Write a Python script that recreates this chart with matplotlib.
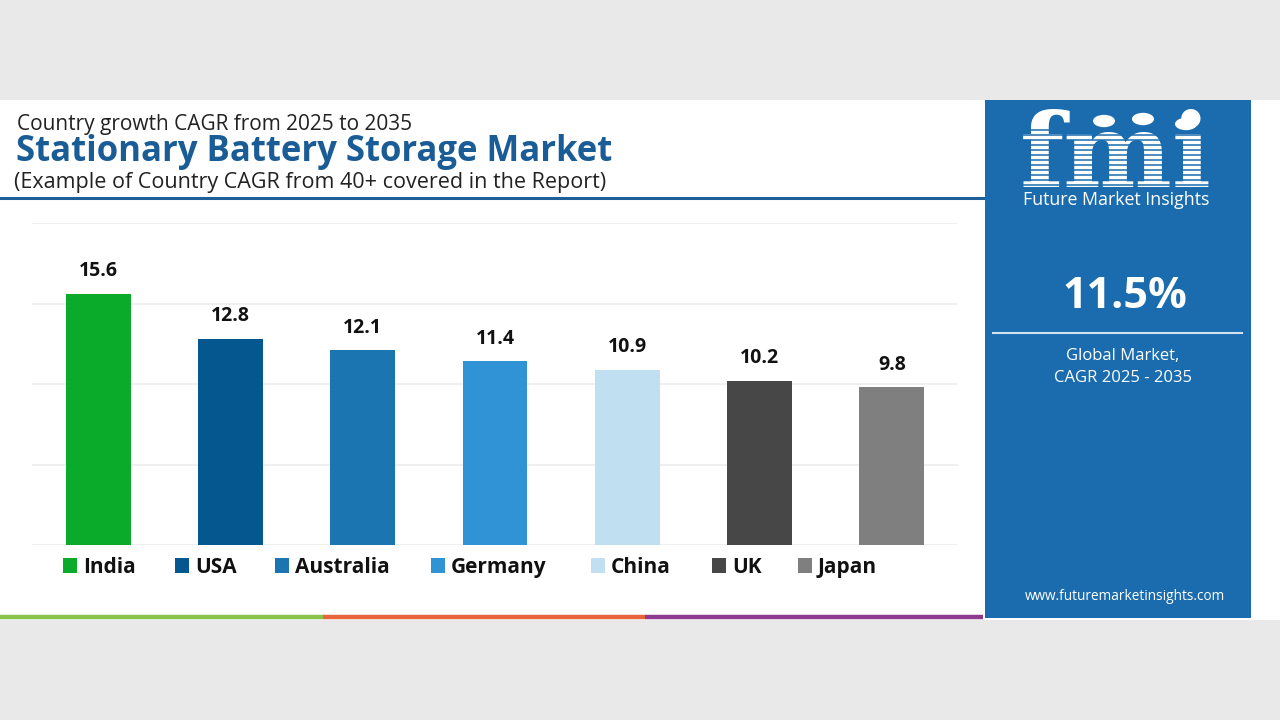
import matplotlib
matplotlib.use("Agg")
import matplotlib.pyplot as plt
from matplotlib.patches import Rectangle, Circle
from matplotlib.lines import Line2D

# ---- data ----
countries = ["India", "USA", "Australia", "Germany", "China", "UK", "Japan"]
cagr = [15.6, 12.8, 12.1, 11.4, 10.9, 10.2, 9.8]
bar_colors = ["#0aab2a", "#05588f", "#1b75b1", "#2f93d6", "#c0e0f2", "#474747", "#7f7f7f"]
global_cagr = "11.5%"
header_line1 = "Country growth CAGR from 2025 to 2035"
title = "Stationary Battery Storage Market"
subtitle = "(Example of Country CAGR from 40+ covered in the Report)"

W, H = 1280, 720
fig = plt.figure(figsize=(W / 100, H / 100), dpi=100)
fig.patch.set_facecolor("#e9e9e9")

def fx(px):
    return px / W

def fy(py):
    return 1 - py / H

FONT = "Open Sans"
PANEL = "#1b6cae"

# white card
fig.add_artist(Rectangle((0, fy(620)), 1, fy(100) - fy(620), transform=fig.transFigure,
                         facecolor="white", edgecolor="none", zorder=0))
# right blue panel
fig.add_artist(Rectangle((fx(985), fy(618)), fx(1251) - fx(985), fy(100) - fy(618),
                         transform=fig.transFigure, facecolor=PANEL, edgecolor="none", zorder=1))

# header texts
fig.text(fx(17), fy(130), header_line1, fontsize=15, family=FONT, color="#222222",
         va="baseline", ha="left")
fig.text(fx(16), fy(161), title, fontsize=25, family=FONT, weight="bold", color="#1a5c96",
         va="baseline", ha="left")
fig.text(fx(14), fy(188), subtitle, fontsize=15.5, family=FONT, color="#222222",
         va="baseline", ha="left")
fig.add_artist(Line2D([0, fx(983)], [fy(198), fy(198)], transform=fig.transFigure,
                      color="#1f5f99", lw=2.2, zorder=2))

# bottom coloured strip
for x0, x1, c in [(0, 323, "#8bc34a"), (323, 645, "#e8643c"), (645, 983, "#8e3a8e")]:
    fig.add_artist(Line2D([fx(x0), fx(x1)], [fy(617), fy(617)], transform=fig.transFigure,
                          color=c, lw=3.2, solid_capstyle="butt", zorder=2))

# ---- bar chart ----
ax = fig.add_axes([fx(32), fy(545), fx(958) - fx(32), fy(223) - fy(545)])
ax.set_facecolor("none")
x = list(range(len(countries)))
bars = ax.bar(x, cagr, width=0.49, color=bar_colors, zorder=3)
ax.set_xlim(-0.5, 6.5)
ax.set_ylim(0, 20)
ax.set_yticks([0, 5, 10, 15, 20])
ax.grid(axis="y", color="#ececec", lw=1.2, zorder=0)
ax.tick_params(left=False, bottom=False, labelleft=False, labelbottom=False)
for s in ax.spines.values():
    s.set_visible(False)
for b, v in zip(bars, cagr):
    ax.annotate(f"{v}", (b.get_x() + b.get_width() / 2, v), xytext=(0, 9),
                textcoords="offset points", ha="center", va="bottom",
                fontsize=14, weight="bold", family=FONT, color="#111111")

# legend (manual layout)
leg_x = [63, 175, 275, 431, 591, 712, 798]
for lx, name, c in zip(leg_x, countries, bar_colors):
    fig.add_artist(Rectangle((fx(lx), fy(573)), fx(14) - fx(0), fy(558) - fy(573),
                             transform=fig.transFigure, facecolor=c, edgecolor="none", zorder=3))
    fig.text(fx(lx + 20), fy(573), name, fontsize=15, weight="bold", family=FONT,
             color="#111111", va="baseline", ha="left")

# ---- right panel content ----
cx = 1116
fig.text(fx(cx), fy(187), "fmi", fontsize=74, family="DejaVu Serif", weight="bold",
         color="white", ha="center", va="baseline", zorder=3)
for yy in range(130, 190, 5):
    fig.add_artist(Line2D([fx(1018), fx(1215)], [fy(yy), fy(yy)], transform=fig.transFigure,
                          color=PANEL, lw=1.1, zorder=4))
for ccx, ccy in [(1104, 121), (1143, 119), (1186, 124)]:
    fig.add_artist(Circle((fx(ccx), fy(ccy)), fx(11), transform=fig.transFigure,
                          facecolor="white", edgecolor="none", zorder=5))
fig.text(fx(cx), fy(205), "Future Market Insights", fontsize=12.8, family=FONT,
         color="white", ha="center", va="baseline", zorder=5)
fig.text(fx(1125), fy(296), global_cagr, fontsize=31, family=FONT, weight="bold",
         color="white", ha="center", va="center", zorder=5)
fig.add_artist(Line2D([fx(993), fx(1242)], [fy(333), fy(333)], transform=fig.transFigure,
                      color="#cfe0ef", lw=1.5, zorder=5))
fig.text(fx(1123), fy(356), "Global Market,", fontsize=12, family=FONT,
         color="white", ha="center", va="center", zorder=5)
fig.text(fx(1123), fy(378), "CAGR 2025 - 2035", fontsize=12, family=FONT,
         color="white", ha="center", va="center", zorder=5)
fig.text(fx(1125), fy(597), "www.futuremarketinsights.com", fontsize=9.8, family=FONT,
         color="white", ha="center", va="center", zorder=5)

fig.savefig("out.png", dpi=100, facecolor=fig.get_facecolor())
